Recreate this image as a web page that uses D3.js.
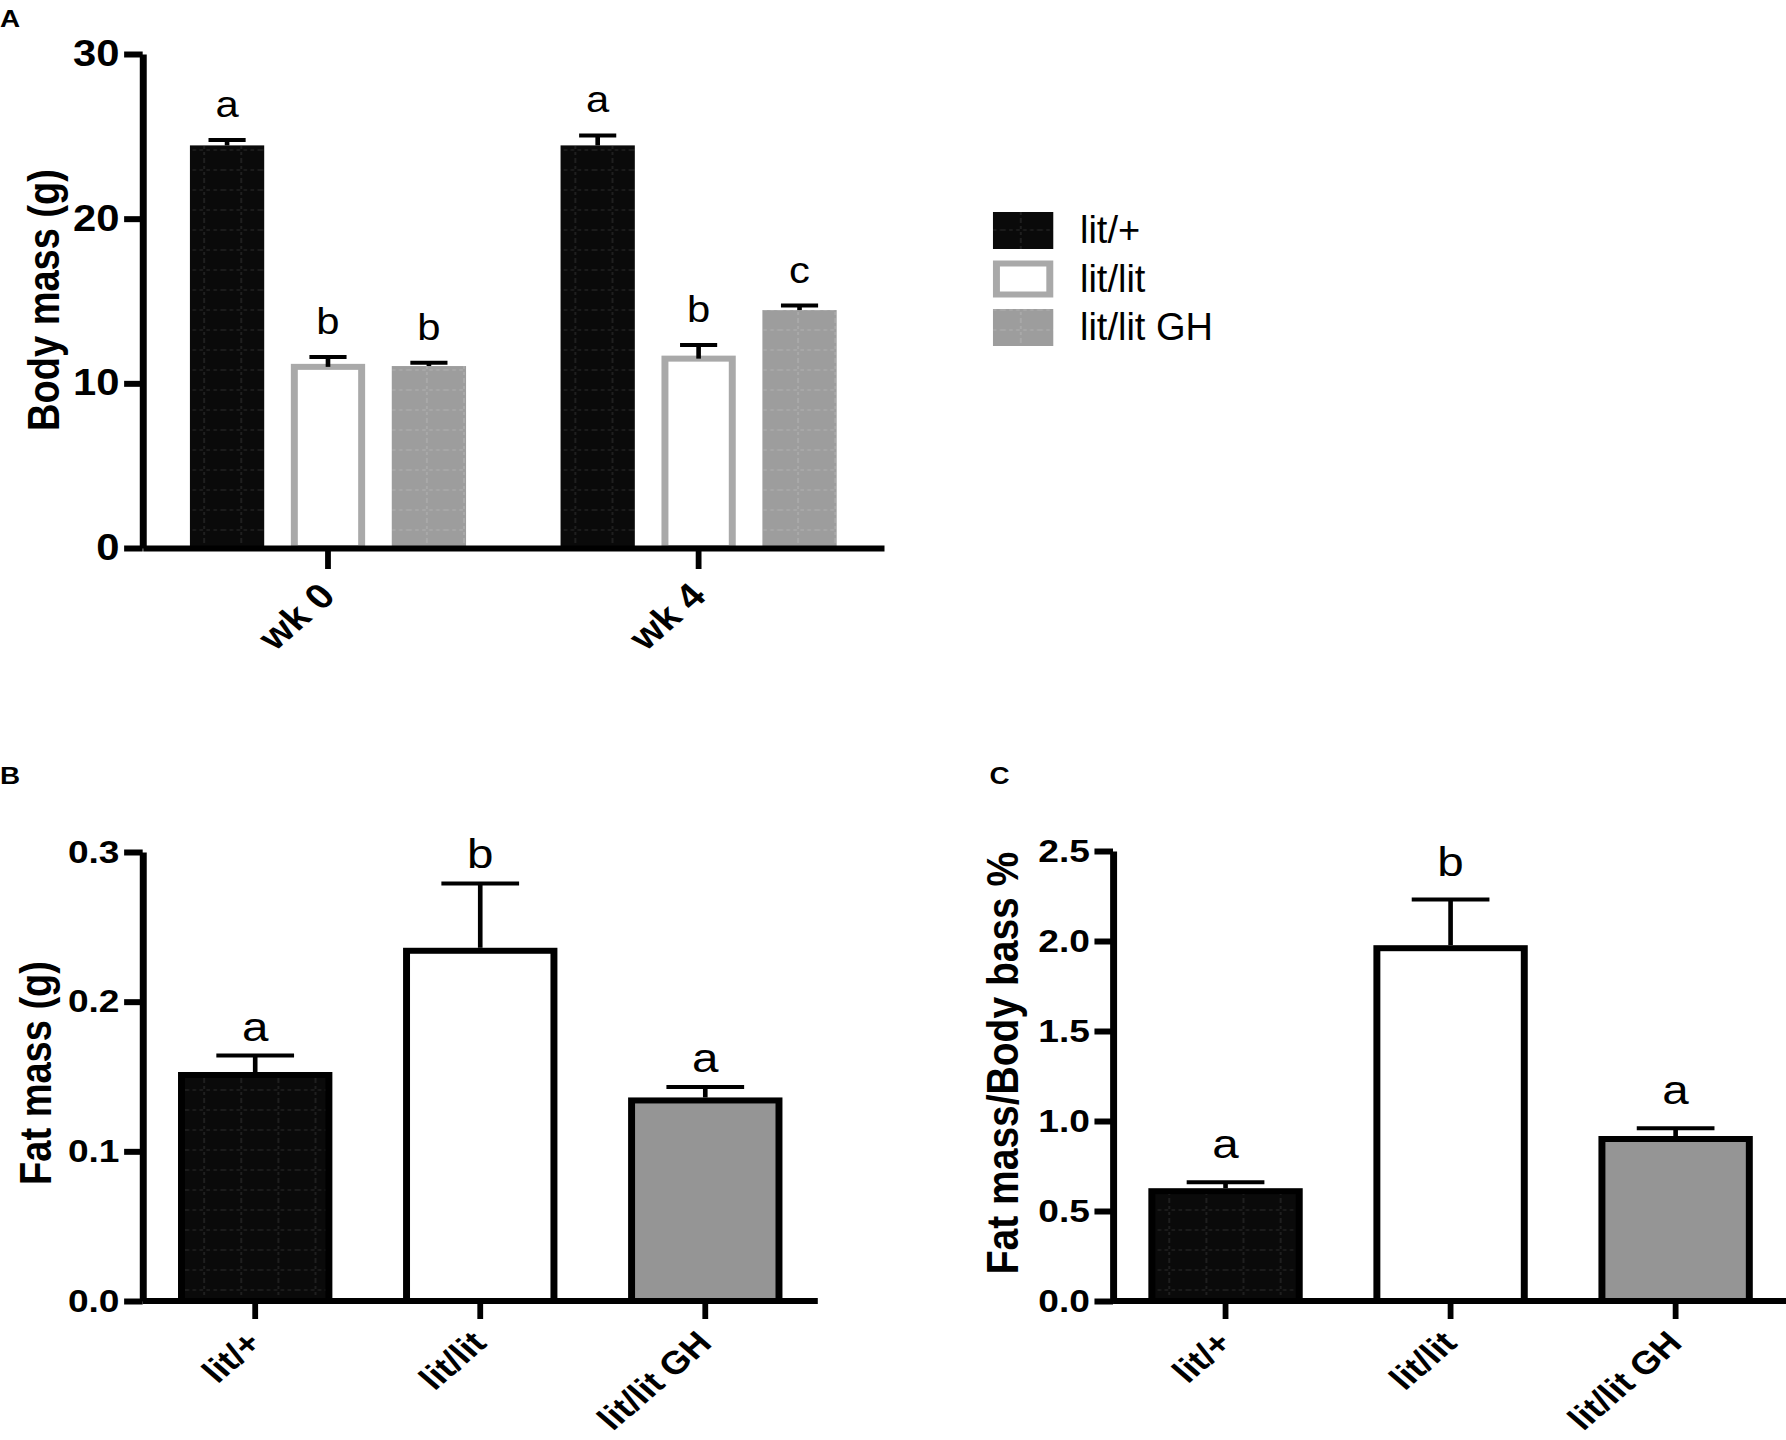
<!DOCTYPE html>
<html><head><meta charset="utf-8">
<script src="https://cdn.jsdelivr.net/npm/d3@7"></script>
<style>html,body{margin:0;padding:0;background:#fff;} svg{display:block;}</style>
</head><body><div id="chart"></div>
<script>
// ---------- data ----------
const seriesNames = ["lit/+", "lit/lit", "lit/lit GH"];
const weeks = ["wk 0", "wk 4"];
const bodyMassLitHet = [24.45, 24.45];
const bodyMassLitHetSem = [0.33, 0.6];
const bodyMassLit = [11.0, 11.5];
const bodyMassLitSem = [0.6, 0.83];
const bodyMassLitGH = [11.05, 14.45];
const bodyMassLitGHSem = [0.2, 0.27];
const bodyMassLetters = [["a", "a"], ["b", "b"], ["b", "c"]];
const bodyMassTicks = [0, 10, 20, 30];

const fatMass = [0.151, 0.234, 0.134];
const fatMassSem = [0.013, 0.045, 0.009];
const fatMassLetters = ["a", "b", "a"];
const fatMassTicks = [0, 0.1, 0.2, 0.3];

const fatPct = [0.61, 1.96, 0.90];
const fatPctSem = [0.05, 0.27, 0.06];
const fatPctLetters = ["a", "b", "a"];
const fatPctTicks = [0, 0.5, 1.0, 1.5, 2.0, 2.5];

// ---------- setup ----------
const S = 1.16, W = 1786 / S, H = 1440;
const FONT = "'Liberation Sans', Arial, Helvetica, sans-serif";
const svg = d3.select("#chart").append("svg")
  .attr("width", 1786).attr("height", 1440)
  .attr("viewBox", `0 0 ${W} ${H}`).attr("preserveAspectRatio", "none")
  .attr("font-family", FONT);

const defs = svg.append("defs");
function gridPattern(id, bg, line) {
  const p = defs.append("pattern").attr("id", id).attr("patternUnits", "userSpaceOnUse")
    .attr("width", 32).attr("height", 20);
  p.append("rect").attr("width", 32).attr("height", 20).attr("fill", bg);
  p.append("line").attr("x1", 0).attr("x2", 32).attr("y1", 10).attr("y2", 10)
    .attr("stroke", line).attr("stroke-width", 1).attr("stroke-dasharray", "3,3");
  p.append("line").attr("x1", 16).attr("x2", 16).attr("y1", 0).attr("y2", 20)
    .attr("stroke", line).attr("stroke-width", 1).attr("stroke-dasharray", "3,3");
}
gridPattern("gridBlack", "#0a0a0a", "#2c2c2c");
gridPattern("gridGrey", "#9d9d9d", "#b2b2b2");

const panelLabel = (t, x, y) => svg.append("text").attr("x", x).attr("y", y)
  .attr("font-size", 24).attr("font-weight", "bold").text(t);
panelLabel("A", 0, 27);
panelLabel("B", 0, 784);
panelLabel("C", 853, 784);

function styleAxis(g, fs) {
  g.attr("font-size", null).attr("font-family", null);
  g.select(".domain").attr("stroke", "#000").attr("stroke-width", 6);
  g.selectAll(".tick line").attr("stroke", "#000").attr("stroke-width", 6);
  g.selectAll(".tick text").attr("font-size", fs).attr("font-weight", "bold")
    .attr("font-family", FONT).attr("fill", "#000");
}

// ---------- Panel A ----------
const seriesA = [
  { name: seriesNames[0], mean: bodyMassLitHet, sem: bodyMassLitHetSem, letters: bodyMassLetters[0] },
  { name: seriesNames[1], mean: bodyMassLit, sem: bodyMassLitSem, letters: bodyMassLetters[1] },
  { name: seriesNames[2], mean: bodyMassLitGH, sem: bodyMassLitGHSem, letters: bodyMassLetters[2] }
];
const styleA = {
  "lit/+": { fill: "url(#gridBlack)", stroke: "none" },
  "lit/lit": { fill: "#ffffff", stroke: "#a9a9a9" },
  "lit/lit GH": { fill: "url(#gridGrey)", stroke: "none" }
};
const yA = d3.scaleLinear().domain([0, 30]).range([548, 54]);
const x0 = d3.scaleBand().domain(weeks).range([123, 762]);
const x1 = d3.scaleBand().domain(seriesNames).range([-130.5, 130.5]).paddingInner(0.264).paddingOuter(0.132);
const gA = svg.append("g");
seriesA.forEach(s => {
  weeks.forEach((w, i) => {
    const bx = x0(w) + x0.bandwidth() / 2 + x1(s.name);
    const bw = x1.bandwidth();
    const cx = bx + bw / 2;
    const v = s.mean[i], e = s.sem[i];
    const st = styleA[s.name];
    if (st.stroke !== "none") {
      gA.append("rect").attr("x", bx + 3).attr("width", bw - 6)
        .attr("y", yA(v)).attr("height", yA(0) - yA(v))
        .attr("fill", st.fill).attr("stroke", st.stroke).attr("stroke-width", 6);
    } else {
      gA.append("rect").attr("x", bx).attr("width", bw)
        .attr("y", yA(v)).attr("height", yA(0) - yA(v)).attr("fill", st.fill);
    }
    gA.append("line").attr("x1", cx).attr("x2", cx).attr("y1", yA(v)).attr("y2", yA(v + e))
      .attr("stroke", "#000").attr("stroke-width", 4);
    gA.append("line").attr("x1", cx - bw / 4).attr("x2", cx + bw / 4).attr("y1", yA(v + e)).attr("y2", yA(v + e))
      .attr("stroke", "#000").attr("stroke-width", 4);
    gA.append("text").attr("x", cx).attr("y", yA(v + e) - 23).attr("text-anchor", "middle")
      .attr("font-size", 36).text(s.letters[i]);
  });
});
const gyA = svg.append("g").attr("transform", "translate(123,0)")
  .call(d3.axisLeft(yA).tickValues(bodyMassTicks).tickSize(16).tickSizeOuter(0).tickPadding(4).tickFormat(d3.format("d")));
styleAxis(gyA, 36);
const gxA = svg.append("g").attr("transform", `translate(0,${yA(0)})`)
  .call(d3.axisBottom(x0).tickSize(21).tickSizeOuter(0).tickFormat(""));
styleAxis(gxA, 34);
gxA.selectAll(".tick line").attr("stroke-width", 5);
weeks.forEach(w => {
  const cx = x0(w) + x0.bandwidth() / 2;
  svg.append("text").attr("transform", `translate(${cx + 8},${yA(0) + 50}) rotate(-45)`)
    .attr("text-anchor", "end").attr("font-size", 35).attr("font-weight", "bold").text(w);
});
svg.append("text").attr("transform", "translate(51,300) rotate(-90)").attr("text-anchor", "middle")
  .attr("font-size", 38).attr("font-weight", "bold").text("Body mass (g)");

// legend
const legend = svg.append("g");
seriesNames.forEach((n, i) => {
  const top = 212 + i * 48.5;
  const st = styleA[n];
  if (st.stroke !== "none") {
    legend.append("rect").attr("x", 859).attr("y", top + 3).attr("width", 46).attr("height", 31)
      .attr("fill", st.fill).attr("stroke", st.stroke).attr("stroke-width", 6);
  } else {
    legend.append("rect").attr("x", 856).attr("y", top).attr("width", 52).attr("height", 37)
      .attr("fill", st.fill);
  }
  legend.append("text").attr("transform", `translate(931,${top + 31}) scale(0.84,1)`)
    .attr("font-size", 39).text(n);
});

// ---------- Panels B & C ----------
function simplePanel(cfg) {
  const y = d3.scaleLinear().domain([0, cfg.max]).range([1301, cfg.top]);
  const x = d3.scaleBand().domain(seriesNames).range(cfg.xr).paddingInner(0.345).paddingOuter(0.1725);
  const fills = { "lit/+": "url(#gridBlack)", "lit/lit": "#ffffff", "lit/lit GH": "#959595" };
  const g = svg.append("g");
  seriesNames.forEach((n, i) => {
    const v = cfg.values[i], e = cfg.sem[i];
    const bx = x(n), bw = x.bandwidth(), cx = bx + bw / 2;
    g.append("rect").attr("x", bx).attr("width", bw).attr("y", y(v)).attr("height", y(0) - y(v))
      .attr("fill", fills[n]).attr("stroke", "#000").attr("stroke-width", 6);
    g.append("line").attr("x1", cx).attr("x2", cx).attr("y1", y(v) - 3).attr("y2", y(v + e))
      .attr("stroke", "#000").attr("stroke-width", 4);
    g.append("line").attr("x1", cx - 33.5).attr("x2", cx + 33.5).attr("y1", y(v + e)).attr("y2", y(v + e))
      .attr("stroke", "#000").attr("stroke-width", 4);
    g.append("text").attr("x", cx).attr("y", y(v + e) - cfg.gap).attr("text-anchor", "middle")
      .attr("font-size", 41).text(cfg.letters[i]);
  });
  const gy = svg.append("g").attr("transform", `translate(${cfg.xr[0]},0)`)
    .call(d3.axisLeft(y).tickValues(cfg.ticks).tickSize(16).tickSizeOuter(0).tickPadding(4).tickFormat(d3.format(".1f")));
  styleAxis(gy, 32);
  const gx = svg.append("g").attr("transform", `translate(0,${y(0)})`)
    .call(d3.axisBottom(x).tickSize(18).tickSizeOuter(0).tickFormat(""));
  styleAxis(gx, 30);
  gx.select(".domain").attr("d", `M${cfg.xr[0]},0H${cfg.xr[1]}`);
  gx.selectAll(".tick line").attr("stroke-width", 5);
  seriesNames.forEach(n => {
    const cx = x(n) + x.bandwidth() / 2;
    svg.append("text").attr("transform", `translate(${cx + 7},${y(0) + 44}) rotate(-45)`)
      .attr("text-anchor", "end").attr("font-size", 32).attr("font-weight", "bold").text(n);
  });
  svg.append("text").attr("transform", `translate(${cfg.titleX},${cfg.titleY}) rotate(-90)`)
    .attr("text-anchor", "middle").attr("font-size", cfg.titleSize).attr("font-weight", "bold").text(cfg.title);
}

simplePanel({ max: 0.3, top: 852, xr: [123, 705], values: fatMass, sem: fatMassSem,
  letters: fatMassLetters, ticks: fatMassTicks, gap: 15,
  title: "Fat mass (g)", titleX: 44, titleY: 1073, titleSize: 38 });
simplePanel({ max: 2.5, top: 851, xr: [959.5, 1541.5], values: fatPct, sem: fatPctSem,
  letters: fatPctLetters, ticks: fatPctTicks, gap: 24,
  title: "Fat mass/Body bass %", titleX: 878, titleY: 1063, titleSize: 39 });
</script>
</body></html>
